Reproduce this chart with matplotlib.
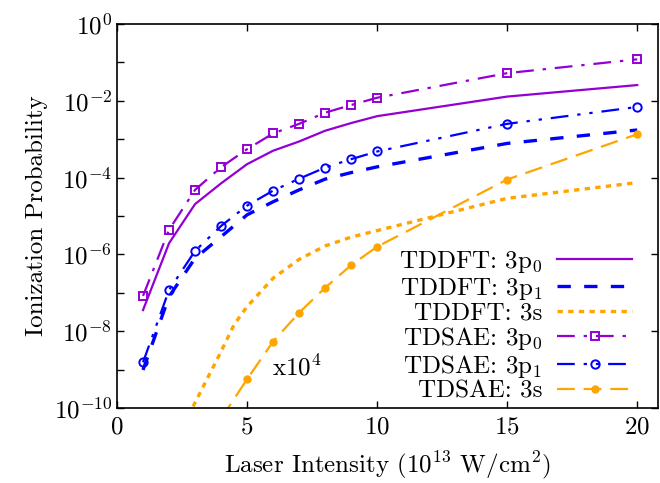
import numpy as np
import matplotlib
matplotlib.use("Agg")
import matplotlib.pyplot as plt
from matplotlib.ticker import LogLocator, NullFormatter

plt.rcParams['font.family'] = ['cmr10', 'DejaVu Serif']
plt.rcParams['mathtext.fontset'] = 'cm'
plt.rcParams['axes.formatter.use_mathtext'] = True
plt.rcParams['font.size'] = 18

# laser intensity (10^13 W/cm^2)
x = [1, 2, 3, 4, 5, 6, 7, 8, 9, 10, 15, 20]

# log10 of ionization probability
tddft_3p0 = [-7.45, -5.71, -4.69, -4.15, -3.65, -3.30, -3.06, -2.78, -2.58, -2.40, -1.89, -1.59]
tddft_3p1 = [-9.01, -7.10, -6.10, -5.54, -4.97, -4.63, -4.32, -4.04, -3.87, -3.72, -3.11, -2.76]
x_3s = [2, 3, 4, 4.5, 5, 6, 7, 8, 9, 10, 15, 20]
tddft_3s = [-11.2, -9.86, -8.53, -7.83, -7.36, -6.62, -6.13, -5.78, -5.55, -5.38, -4.54, -4.13]
tdsae_3p0 = [-7.08, -5.36, -4.32, -3.73, -3.26, -2.85, -2.60, -2.31, -2.11, -1.92, -1.28, -0.92]
tdsae_3p1 = [-8.81, -6.93, -5.91, -5.26, -4.73, -4.34, -4.03, -3.74, -3.52, -3.32, -2.60, -2.16]
x_sae3s = [4, 5, 6, 7, 8, 9, 10, 15, 20]
tdsae_3s = [-10.28, -9.25, -8.27, -7.52, -6.87, -6.28, -5.80, -4.05, -2.87]  # x10^4

purple = '#9400d3'
blue = '#0000ff'
orange = '#ffa500'

fig = plt.figure(figsize=(6.6, 4.83), dpi=100)
ax = fig.add_axes([0.1773, 0.1553, 0.8197, 0.795])

p = lambda v: 10.0 ** np.array(v)

ax.plot(x, p(tddft_3p0), color=purple, lw=1.6, label='TDDFT: 3p$_0$')
ax.plot(x, p(tddft_3p1), color=blue, lw=2.4, dashes=(4, 4), label='TDDFT: 3p$_1$')
ax.plot(x_3s, p(tddft_3s), color=orange, lw=2.4, dashes=(1.6, 1.6), label='TDDFT: 3s')
ax.plot(x, p(tdsae_3p0), color=purple, lw=1.6, dashes=(8, 4, 1.5, 4),
        marker='s', ms=6, mfc='none', mew=1.4, label='TDSAE: 3p$_0$')
ax.plot(x, p(tdsae_3p1), color=blue, lw=1.6, dashes=(8, 4, 1.5, 4, 1.5, 4),
        marker='o', ms=6, mfc='none', mew=1.4, label='TDSAE: 3p$_1$')
ax.plot(x_sae3s, p(tdsae_3s), color=orange, lw=1.6, dashes=(8, 4),
        marker='o', ms=5, label='TDSAE: 3s')

ax.text(5.95, 10 ** -8.95, 'x10$^4$', va='center', ha='left')

ax.set_yscale('log')
ax.set_xlim(0, 20.8)
ax.set_ylim(1e-10, 1)
ax.set_xticks([0, 5, 10, 15, 20])
ax.yaxis.set_major_locator(LogLocator(base=100, numticks=10))
ax.yaxis.set_minor_locator(LogLocator(base=10, numticks=20))
ax.yaxis.set_minor_formatter(NullFormatter())
ax.tick_params(which='major', direction='in', length=5, width=1, top=True, right=True)
ax.tick_params(which='minor', direction='in', length=5, width=1, top=False, right=False)
ax.tick_params(axis='x', which='minor', bottom=False)
ax.tick_params(axis='x', pad=6)
for s in ax.spines.values():
    s.set_linewidth(1.2)

ax.set_xlabel('Laser Intensity (10$^{13}$ W/cm$^2$)', labelpad=8)
ax.set_ylabel('Ionization Probability')

ax.legend(loc='lower right', bbox_to_anchor=(0.98, -0.025), frameon=False,
          markerfirst=False, handlelength=3.0, handletextpad=0.6,
          labelspacing=0.02, borderaxespad=0.2, numpoints=1)

fig.savefig('out.png', dpi=100)
